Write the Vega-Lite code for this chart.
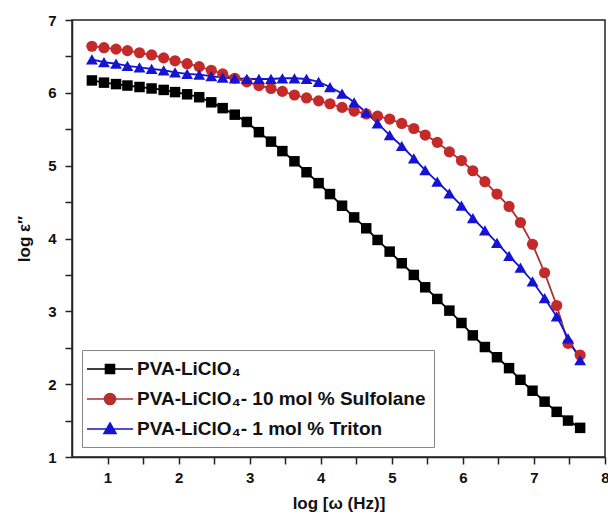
{
  "$schema": "https://vega.github.io/schema/vega-lite/v6.json",
  "width": 533,
  "height": 437,
  "autosize": {"type": "none"},
  "padding": {"left": 72, "top": 20, "right": 3, "bottom": 64},
  "background": "white",
  "config": {
    "font": "Liberation Sans, Arial, DejaVu Sans, sans-serif",
    "view": {"stroke": "#222222", "strokeWidth": 1.5},
    "axis": {
      "grid": false,
      "domainColor": "#222222",
      "domainWidth": 1.5,
      "tickColor": "#222222",
      "tickWidth": 1.5,
      "tickSize": 7,
      "labelFontSize": 15,
      "labelFontWeight": "bold",
      "labelColor": "#111111",
      "titleFontSize": 17,
      "titleFontWeight": "bold",
      "titleColor": "#111111",
      "labelOverlap": false,
      "labelFlush": false
    }
  },
  "data": {
    "values": [
      {"x": 0.78, "a": 6.17, "b": 6.64, "c": 6.46},
      {"x": 0.95, "a": 6.14, "b": 6.62, "c": 6.42},
      {"x": 1.12, "a": 6.12, "b": 6.60, "c": 6.40},
      {"x": 1.28, "a": 6.10, "b": 6.58, "c": 6.37},
      {"x": 1.45, "a": 6.08, "b": 6.55, "c": 6.35},
      {"x": 1.62, "a": 6.06, "b": 6.52, "c": 6.33},
      {"x": 1.79, "a": 6.04, "b": 6.48, "c": 6.31},
      {"x": 1.95, "a": 6.01, "b": 6.44, "c": 6.28},
      {"x": 2.12, "a": 5.98, "b": 6.40, "c": 6.26},
      {"x": 2.29, "a": 5.94, "b": 6.36, "c": 6.25},
      {"x": 2.46, "a": 5.87, "b": 6.31, "c": 6.23},
      {"x": 2.62, "a": 5.79, "b": 6.26, "c": 6.21},
      {"x": 2.79, "a": 5.70, "b": 6.20, "c": 6.20},
      {"x": 2.96, "a": 5.60, "b": 6.15, "c": 6.19},
      {"x": 3.13, "a": 5.46, "b": 6.10, "c": 6.19},
      {"x": 3.30, "a": 5.33, "b": 6.06, "c": 6.19},
      {"x": 3.46, "a": 5.20, "b": 6.02, "c": 6.20},
      {"x": 3.63, "a": 5.06, "b": 5.97, "c": 6.20},
      {"x": 3.80, "a": 4.91, "b": 5.93, "c": 6.19},
      {"x": 3.97, "a": 4.76, "b": 5.89, "c": 6.15},
      {"x": 4.13, "a": 4.61, "b": 5.85, "c": 6.08},
      {"x": 4.30, "a": 4.45, "b": 5.80, "c": 5.99},
      {"x": 4.47, "a": 4.29, "b": 5.75, "c": 5.87},
      {"x": 4.64, "a": 4.14, "b": 5.71, "c": 5.73},
      {"x": 4.80, "a": 3.98, "b": 5.68, "c": 5.58},
      {"x": 4.97, "a": 3.82, "b": 5.64, "c": 5.42},
      {"x": 5.14, "a": 3.66, "b": 5.58, "c": 5.27},
      {"x": 5.31, "a": 3.50, "b": 5.51, "c": 5.10},
      {"x": 5.47, "a": 3.33, "b": 5.42, "c": 4.94},
      {"x": 5.64, "a": 3.17, "b": 5.32, "c": 4.78},
      {"x": 5.81, "a": 3.01, "b": 5.19, "c": 4.62},
      {"x": 5.98, "a": 2.84, "b": 5.07, "c": 4.45},
      {"x": 6.14, "a": 2.67, "b": 4.93, "c": 4.28},
      {"x": 6.31, "a": 2.51, "b": 4.78, "c": 4.11},
      {"x": 6.48, "a": 2.37, "b": 4.61, "c": 3.94},
      {"x": 6.65, "a": 2.22, "b": 4.44, "c": 3.76},
      {"x": 6.81, "a": 2.06, "b": 4.22, "c": 3.60},
      {"x": 6.98, "a": 1.91, "b": 3.92, "c": 3.41},
      {"x": 7.15, "a": 1.76, "b": 3.53, "c": 3.18},
      {"x": 7.32, "a": 1.62, "b": 3.08, "c": 2.93},
      {"x": 7.48, "a": 1.50, "b": 2.56, "c": 2.63},
      {"x": 7.65, "a": 1.40, "b": 2.40, "c": 2.33}
    ]
  },
  "transform": [
    {"fold": ["a", "b", "c"], "as": ["series", "value"]}
  ],
  "encoding": {
    "x": {
      "field": "x",
      "type": "quantitative",
      "scale": {"domain": [0.5, 8], "nice": false, "zero": false},
      "axis": {
        "title": "log [ω (Hz)]",
        "values": [1, 1.5, 2, 2.5, 3, 3.5, 4, 4.5, 5, 5.5, 6, 6.5, 7, 7.5, 8],
        "labelExpr": "datum.value % 1 === 0 ? format(datum.value, 'd') : ''",
        "labelPadding": 6,
        "titlePadding": 10,
        "encode": {"ticks": {"y2": {"condition": {"test": "datum.value % 1 === 0", "value": 7}, "value": 4}}}
      }
    },
    "y": {
      "field": "value",
      "type": "quantitative",
      "scale": {"domain": [1, 7], "nice": false, "zero": false},
      "axis": {
        "title": "log ε″",
        "values": [1, 1.5, 2, 2.5, 3, 3.5, 4, 4.5, 5, 5.5, 6, 6.5, 7],
        "labelExpr": "datum.value % 1 === 0 ? format(datum.value, 'd') : ''",
        "labelPadding": 9,
        "titlePadding": 14,
        "encode": {"ticks": {"x2": {"condition": {"test": "datum.value % 1 === 0", "value": -7}, "value": -4}}}
      }
    },
    "color": {
      "field": "series",
      "type": "nominal",
      "scale": {"domain": ["a", "b", "c"], "range": ["#000000", "#c42a2a", "#1414d2"]},
      "legend": {
        "title": null,
        "orient": "bottom-left",
        "offset": 10,
        "padding": 8,
        "strokeColor": "#888888",
        "fillColor": "white",
        "labelFontSize": 19,
        "labelFontWeight": "bold",
        "labelColor": "#111111",
        "labelLimit": 400,
        "symbolSize": 400,
        "symbolOffset": 9,
        "labelOffset": 16,
        "rowPadding": 9,
        "symbolStrokeWidth": 1.6,
        "symbolOpacity": 1,
        "symbolStrokeColor": {"expr": "datum.value === 'a' ? '#000000' : datum.value === 'b' ? '#a83232' : '#1414d2'"},
        "symbolType": {"expr": "datum.value === 'a' ? 'M-2.3,0H2.3M-0.45,-0.45H0.45V0.45H-0.45Z' : datum.value === 'b' ? 'M-2.3,0H2.3M-0.55,0A0.55,0.55,0,1,1,0.55,0A0.55,0.55,0,1,1,-0.55,0Z' : 'M-2.3,0H2.3M0,-0.6L0.6,0.45H-0.6Z'"},
        "labelExpr": "datum.value === 'a' ? 'PVA-LiClO₄' : datum.value === 'b' ? 'PVA-LiClO₄- 10 mol % Sulfolane' : 'PVA-LiClO₄- 1 mol % Triton'"
      }
    }
  },
  "layer": [
    {
      "mark": {"type": "line", "strokeWidth": 1.8},
      "encoding": {
        "color": {
          "field": "series",
          "type": "nominal",
          "scale": {"domain": ["a", "b", "c"], "range": ["#000000", "#a83232", "#1414d2"]},
          "legend": null
        }
      }
    },
    {
      "mark": {"type": "point", "filled": true, "opacity": 1},
      "encoding": {
        "shape": {
          "field": "series",
          "type": "nominal",
          "scale": {"domain": ["a", "b", "c"], "range": ["square", "circle", "triangle-up"]},
          "legend": null
        },
        "size": {
          "field": "series",
          "type": "nominal",
          "scale": {"domain": ["a", "b", "c"], "range": [110, 140, 140]},
          "legend": null
        }
      }
    }
  ],
  "resolve": {"scale": {"color": "independent"}}
}
